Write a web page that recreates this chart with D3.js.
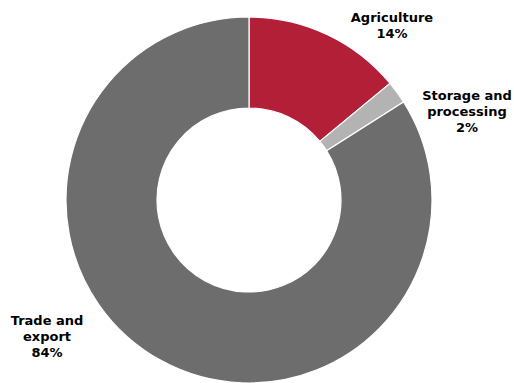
<!DOCTYPE html>
<html>
<head>
<meta charset="utf-8">
<script src="https://cdn.jsdelivr.net/npm/d3@7"></script>
<style>
  body { margin: 0; background: #fff; }
  .lbl { font-family: "DejaVu Sans", Verdana, sans-serif; font-weight: bold; font-size: 13px; fill: #000; }
</style>
</head>
<body>
<div id="chart"></div>
<script>
const categories = ["Agriculture", "Storage and processing", "Trade and export"]
const values = [14, 2, 84]
const labelLines = [["Agriculture", "14%"], ["Storage and", "processing", "2%"], ["Trade and", "export", "84%"]]
const colors = ["#B31F37", "#B3B3B3", "#6D6D6D"]

const width = 514, height = 383
const cx = 249, cy = 200
const outerR = 183, innerR = 92

const svg = d3.select("#chart").append("svg")
    .attr("width", width)
    .attr("height", height)

const g = svg.append("g").attr("transform", `translate(${cx}, ${cy})`)

const pie = d3.pie().sort(null).value((d) => d)
const arc = d3.arc().innerRadius(innerR).outerRadius(outerR)

const arcs = pie(values)

g.selectAll("path")
    .data(arcs)
    .enter()
    .append("path")
    .attr("d", arc)
    .attr("fill", (d, i) => colors[i])
    .attr("stroke", "#fff")
    .attr("stroke-width", 1.2)

// label anchor positions (relative to chart center)
const labelPos = [[143, -178], [218, -100], [-202, 125]]

labelLines.forEach((lines, i) => {
    const t = g.append("text")
        .attr("class", "lbl")
        .attr("text-anchor", "middle")
        .attr("x", labelPos[i][0])
        .attr("y", labelPos[i][1])
    lines.forEach((s, j) => {
        t.append("tspan")
            .attr("x", labelPos[i][0])
            .attr("dy", j == 0 ? 0 : 16)
            .text(s)
    })
})
</script>
</body>
</html>
